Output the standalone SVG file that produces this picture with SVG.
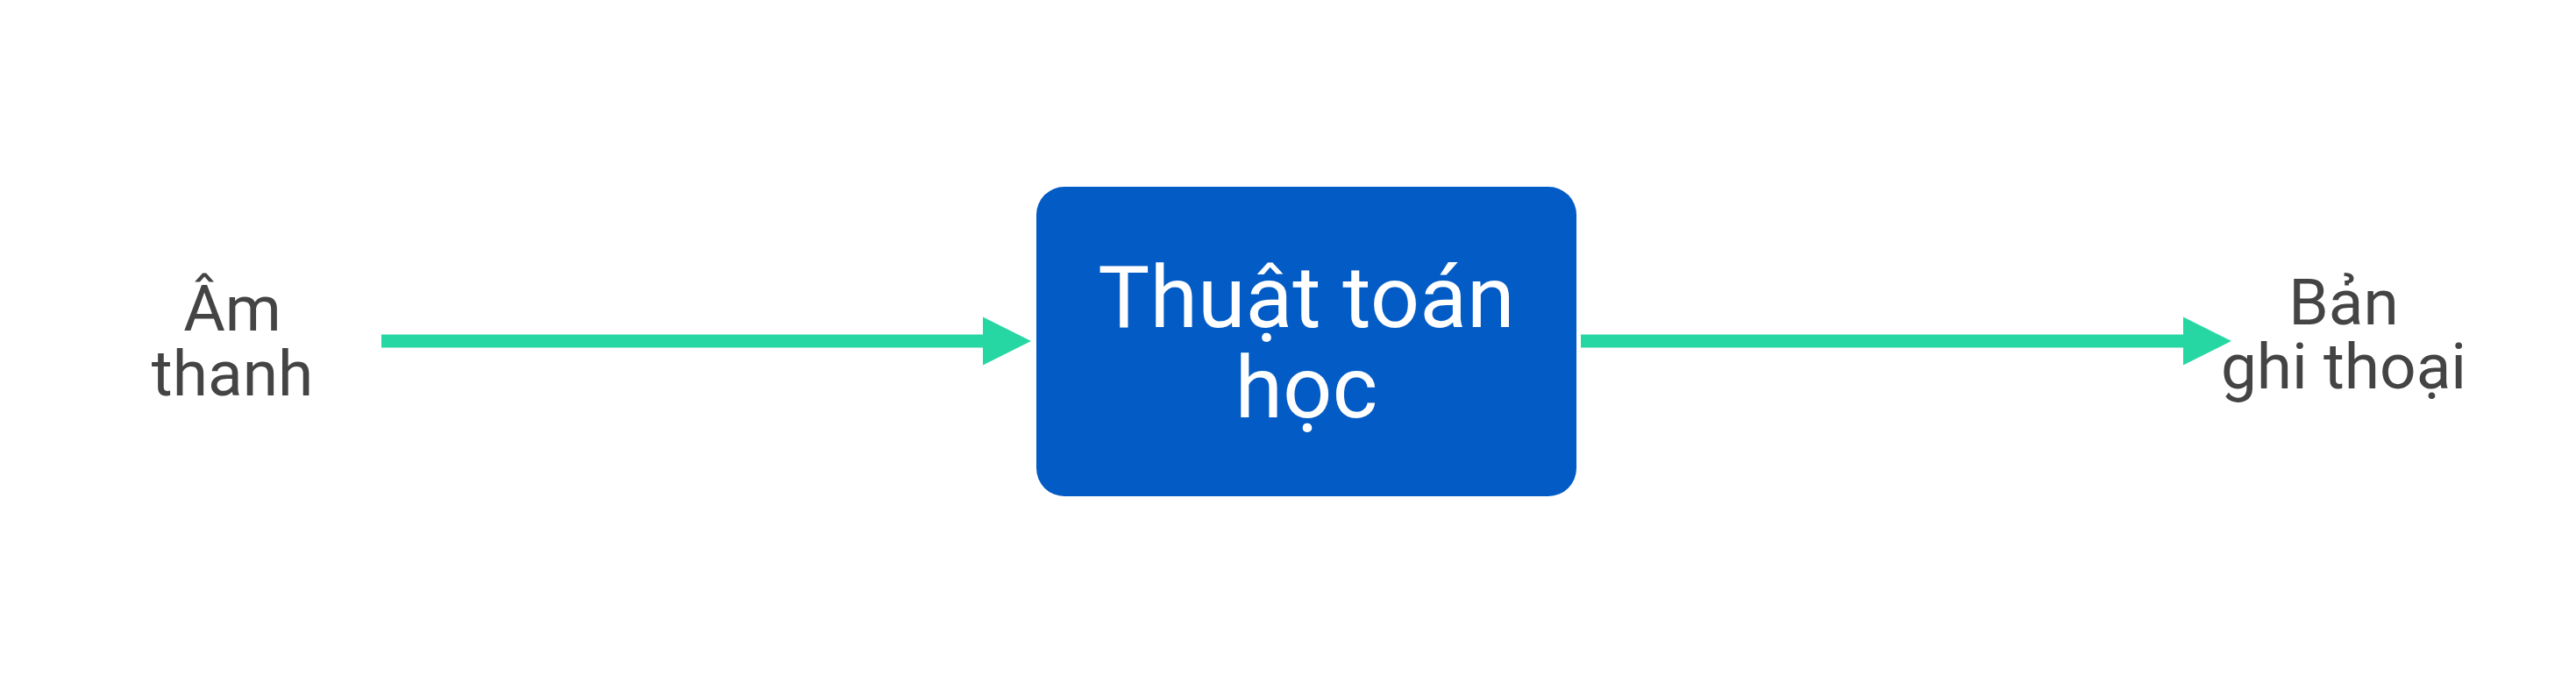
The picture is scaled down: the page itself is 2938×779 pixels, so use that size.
<svg xmlns="http://www.w3.org/2000/svg" width="2938" height="779" viewBox="0 0 2938 779">
<style>
.lbl{font-family:"Google Sans",Roboto,"Open Sans","Liberation Sans",sans-serif;font-size:73px;fill:#444444;text-anchor:middle}
.box{fill:#035BC5}
.boxt{font-family:"Google Sans",Roboto,"Open Sans","Liberation Sans",sans-serif;font-size:99px;fill:#ffffff;text-anchor:middle}
.conn{stroke:#26D7A4;stroke-width:15;fill:none}
</style>
<defs>
<marker id="ah" markerUnits="userSpaceOnUse" markerWidth="56" markerHeight="56" refX="0" refY="27.5" orient="auto" overflow="visible">
<path d="M0,0 L55,27.5 L0,55 Z" fill="#26D7A4"/>
</marker>
</defs>
<rect width="2938" height="779" fill="#ffffff"/>
<g id="connectors">
<line class="conn" x1="435" y1="389" x2="1121" y2="389" marker-end="url(#ah)"/>
<line class="conn" x1="1803" y1="389" x2="2490" y2="389" marker-end="url(#ah)"/>
</g>
<g id="node-am-thanh">
<text class="lbl" x="265" y="377">Âm</text>
<text class="lbl" x="265" y="451">thanh</text>
</g>
<g id="node-thuat-toan">
<rect class="box" x="1182" y="213" width="616" height="353" rx="32" ry="32"/>
<text class="boxt" x="1490" y="373">Thuật toán</text>
<text class="boxt" x="1490" y="476">học</text>
</g>
<g id="node-ban-ghi-thoai">
<text class="lbl" x="2673" y="370">Bản</text>
<text class="lbl" x="2673" y="443">ghi thoại</text>
</g>
</svg>
